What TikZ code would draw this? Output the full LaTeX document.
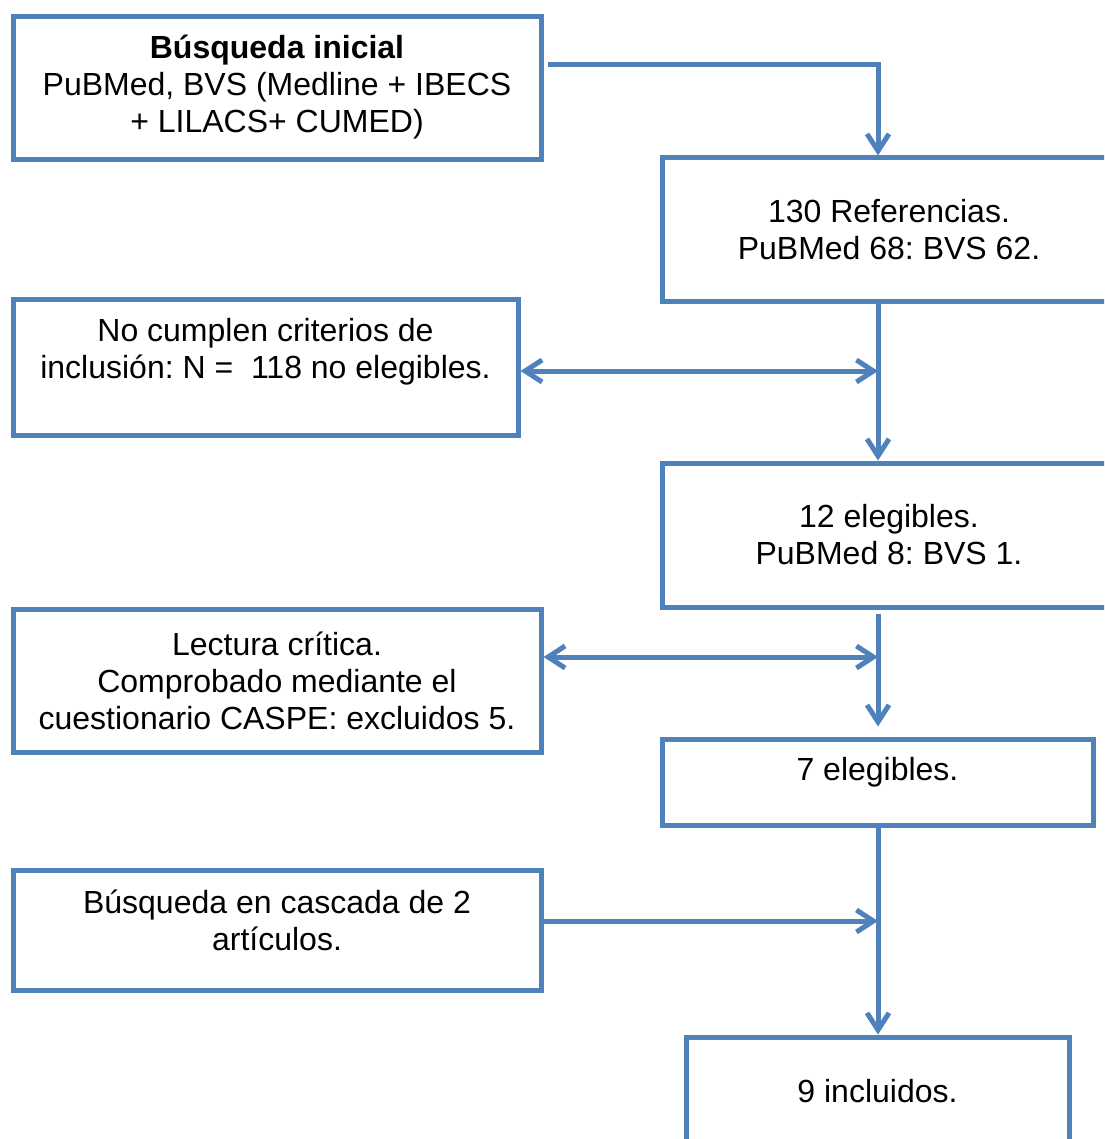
\documentclass[tikz,border=0pt]{standalone}
\usepackage{fontspec}
\setmainfont{Liberation Sans}
\usetikzlibrary{arrows.meta}
\definecolor{flowblue}{HTML}{4F81BD}
\frenchspacing
\begin{document}
\begin{tikzpicture}[x=1pt,y=-1pt,
    box/.style={draw=flowblue,line width=5pt,inner sep=0pt,align=center,
      font=\fontsize{32}{37}\selectfont},
    flow/.style={draw=flowblue,line width=5pt},
    >={Straight Barb[length=17pt,width=22pt]}]
  \useasboundingbox (0,0) rectangle (1104,1139);
  \clip (0,0) rectangle (1104,1139);
  % left column
  \node[box,minimum width=528pt,minimum height=143pt] (search) at (277,88.5)
    {\textbf{Búsqueda inicial}\\PuBMed, BVS (Medline + IBECS\\+ LILACS+ CUMED)\\[-28pt]\mbox{}};
  \node[box,minimum width=505pt,minimum height=136pt] (nocumplen) at (265.5,367)
    {No cumplen criterios de\\inclusión: N =\ \ 118 no elegibles.\\[1pt]\mbox{}};
  \node[box,minimum width=528pt,minimum height=143pt] (lectura) at (277,680.5)
    {Lectura crítica.\\Comprobado mediante el\\cuestionario CASPE: excluidos 5.};
  \node[box,minimum width=528pt,minimum height=120pt] (cascada) at (277,930)
    {Búsqueda en cascada de 2\\artículos.\\[-17pt]\mbox{}};
  % right column
  \node[box,minimum width=454pt,minimum height=143pt] (refs) at (889,229.5)
    {130 Referencias.\\PuBMed 68: BVS 62.};
  \node[box,minimum width=454pt,minimum height=144pt] (eleg12) at (889,535)
    {12 elegibles.\\PuBMed 8: BVS 1.};
  \node[box,minimum width=431pt,minimum height=86pt] (eleg7) at (877.5,782)
    {7 elegibles.\\[-11pt]\mbox{}};
  \node[box,minimum width=383pt,minimum height=108pt] (incl) at (877.5,1091)
    {9 incluidos.};
  % connectors
  \coordinate (trunk) at (878,0);
  \coordinate (search-out) at ([shift={(4,-23.5)}]search.east);
  \coordinate (nocumplen-out) at ([shift={(0,4)}]nocumplen.east);
  \coordinate (lectura-out) at ([shift={(0,-23.5)}]lectura.east);
  \coordinate (cascada-out) at ([shift={(-4,-9)}]cascada.east);
  \begin{scope}[flow]
    \draw[->] (search-out) -| (trunk |- refs.north);
    \draw[<->] (nocumplen-out) -- (nocumplen-out -| trunk);
    \draw[->] (trunk |- refs.south) -- (trunk |- eleg12.north);
    \draw[<->] (lectura-out) -- (lectura-out -| trunk);
    \draw[->,shorten <=4pt,shorten >=10pt] (trunk |- eleg12.south) -- (trunk |- eleg7.north);
    \draw[->] (trunk |- eleg7.south) -- (trunk |- incl.north);
    \draw[->] (cascada-out) -- (cascada-out -| trunk);
  \end{scope}
\end{tikzpicture}
\end{document}
